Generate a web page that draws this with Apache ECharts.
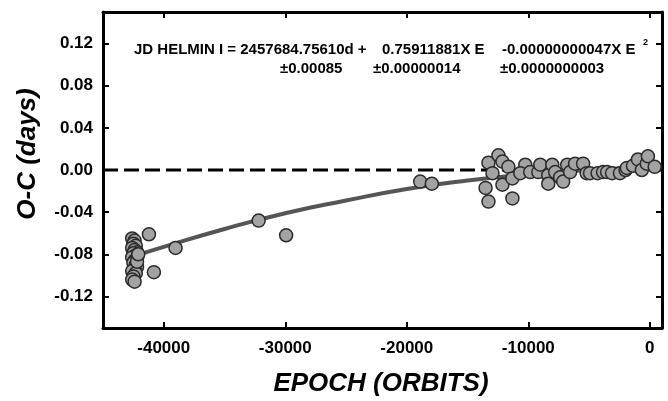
<!DOCTYPE html>
<html><head><meta charset="utf-8">
<script src="https://cdn.jsdelivr.net/npm/echarts@6/dist/echarts.min.js"></script>
<style>html,body{margin:0;padding:0;background:#fff}#c{width:668px;height:401px}</style>
</head><body><div id="c"></div>
<script>
// Observed O-C values (epoch, days)
const obsEpoch = [
  -42600,-42400,-42500,-42300,-42600,-42400,-42200,-42500,-42300,-42600,-42200,-42400,-42500,-42300,-42200,-42400,-42600,-42300,-42500,-42600,-42400,-42200,-42100,
  -41220,-40810,-39030,-32190,-29930,-18900,-17940,
  -13280,-12460,-12130,-12950,-13520,-13280,-12130,-11310,-11640,-11310,-10250,-10660,-9840,-9180,-9020,-8360,-8360,-8030,-7790,-7380,-7130,-6800,-6560,-6150,-5490,-5200,-4920,-4300,-3850,-3520,-3110,-2460,-2000,-1890,-1390,-980,-660,-250,-160,400
];
const obsOC = [
  -0.065,-0.067,-0.070,-0.072,-0.074,-0.076,-0.078,-0.079,-0.081,-0.083,-0.084,-0.086,-0.088,-0.090,-0.092,-0.094,-0.096,-0.098,-0.101,-0.104,-0.106,-0.087,-0.080,
  -0.061,-0.097,-0.074,-0.048,-0.062,-0.011,-0.013,
  0.007,0.014,0.008,-0.003,-0.017,-0.030,-0.014,-0.027,0.003,-0.008,0.005,-0.003,-0.002,-0.002,0.005,-0.005,-0.013,0.005,-0.002,-0.007,-0.011,0.005,-0.002,0.006,0.006,-0.003,-0.003,-0.003,-0.002,-0.002,-0.003,-0.003,0.000,0.002,0.004,0.010,0.000,0.006,0.013,0.003
];
// Fitted curve
const fitEpoch = [-42500,-40000,-35000,-30000,-25000,-20000,-15000,-10000,-5000,0,400];
const fitOC    = [-0.082,-0.073,-0.056,-0.041,-0.029,-0.018,-0.010,-0.004,0.000,0.002,0.002];
// Tick labels
const xTicks = [-40000,-30000,-20000,-10000,0];
const yTicks = [-0.12,-0.08,-0.04,0.00,0.04,0.08,0.12];
const zeroLine = [[-45000,0],[1000,0]];

const FONT = 'Liberation Sans, Arial, sans-serif';
const chart = echarts.init(document.getElementById('c'), null, {renderer:'canvas'});
const axisLine = {show:true, onZero:false, lineStyle:{color:'#000', width:3}};
const tick = (vals)=>({show:true, inside:true, length:6, customValues:vals, lineStyle:{color:'#000', width:2}});
chart.setOption({
  animation:false,
  grid:{left:103, right:6, top:12, bottom:73, containLabel:false},
  xAxis:[
    {type:'value', position:'bottom', min:-45000, max:1000, axisLine, axisTick:tick(xTicks),
     splitLine:{show:false},
     axisLabel:{customValues:xTicks, margin:12, fontSize:17, fontWeight:'bold', color:'#000', fontFamily:FONT,
       formatter:v=>String(v)}},
    {type:'value', position:'top', min:-45000, max:1000, axisLine, axisTick:tick(xTicks),
     splitLine:{show:false}, axisLabel:{show:false}}
  ],
  yAxis:[
    {type:'value', position:'left', min:-0.15, max:0.15, axisLine, axisTick:tick(yTicks),
     splitLine:{show:false},
     axisLabel:{customValues:yTicks, margin:10, fontSize:17, fontWeight:'bold', color:'#000', fontFamily:FONT,
       formatter:v=>v.toFixed(2)}},
    {type:'value', position:'right', min:-0.15, max:0.15, axisLine, axisTick:tick(yTicks),
     splitLine:{show:false}, axisLabel:{show:false}}
  ],
  series:[
    {type:'line', data:zeroLine, symbol:'none', lineStyle:{color:'#000', width:3, type:[15,6]}, z:1},
    {type:'line', data:fitEpoch.map((e,i)=>[e,fitOC[i]]), symbol:'none', smooth:true,
     lineStyle:{color:'#555', width:4}, z:2},
    {type:'scatter', data:obsEpoch.map((e,i)=>[e,obsOC[i]]), symbol:'circle', symbolSize:13,
     itemStyle:{color:'#a3a3a3', borderColor:'#2b2b2b', borderWidth:1.5, opacity:1}, z:3}
  ],
  graphic:[
    {type:'text', left:134, top:42, style:{text:'JD HELMIN I = 2457684.75610d +', font:'bold 15px '+FONT, fill:'#000'}},
    {type:'text', left:382, top:42, style:{text:'0.75911881X E', font:'bold 15px '+FONT, fill:'#000'}},
    {type:'text', left:502, top:42, style:{text:'-0.00000000047X E', font:'bold 15px '+FONT, fill:'#000'}},
    {type:'text', left:643, top:38, style:{text:'2', font:'bold 9px '+FONT, fill:'#000'}},
    {type:'text', left:280, top:61, style:{text:'±0.00085', font:'bold 15px '+FONT, fill:'#000'}},
    {type:'text', left:373, top:61, style:{text:'±0.00000014', font:'bold 15px '+FONT, fill:'#000'}},
    {type:'text', left:500, top:61, style:{text:'±0.0000000003', font:'bold 15px '+FONT, fill:'#000'}},
    {type:'text', x:28, y:154, rotation:Math.PI/2, style:{text:'O-C (days)', font:'italic bold 26px '+FONT, fill:'#000', align:'center', verticalAlign:'middle'}},
    {type:'text', x:381, y:384, style:{text:'EPOCH (ORBITS)', font:'italic bold 26px '+FONT, fill:'#000', align:'center', verticalAlign:'middle'}}
  ]
});
</script></body></html>
